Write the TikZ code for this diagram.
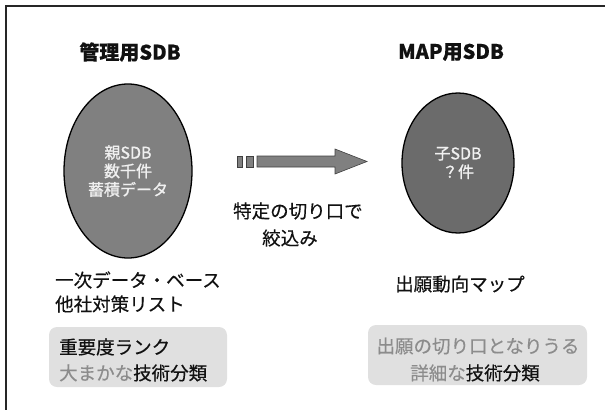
\documentclass[tikz,border=0pt]{standalone}
\usepackage{fontspec}
\setmainfont{Noto Sans CJK JP}[FakeBold=0.4]
\newfontfamily\inner{Noto Sans CJK JP}[FakeBold=1.2]
\usetikzlibrary{shapes.geometric}
\definecolor{ink}{HTML}{111111}
\definecolor{pale}{HTML}{8C8C8C}
\definecolor{boxgray}{HTML}{E0E0E0}
\begin{document}
\begin{tikzpicture}[x=1pt,y=-1pt,
  db/.style={ellipse,draw=black,line width=1.3pt,inner sep=0pt,text=white!94!black,
    font=\inner\fontsize{16}{18.5}\selectfont,align=center},
  titlelbl/.style={font=\fontsize{20}{24}\selectfont\bfseries,text=ink},
  lbl/.style={font=\fontsize{18.5}{23}\selectfont,text=ink,inner sep=0pt},
  tagbox/.style={fill=boxgray,rounded corners=8pt,inner sep=0pt},
  arrowpart/.style={fill=black!50,draw=black!75,line width=0.6pt}]
\useasboundingbox (0,0) rectangle (605,410);
\draw[line width=1.2pt,black!85] (605,6) -- (6,6) -- (6,410);

\node[titlelbl] (t1) at (130,52) {管理用SDB};
\node[titlelbl] (t2) at (451,52) {MAP用SDB};

\node[db,fill=black!50,minimum width=128,minimum height=174] (e1) at (128,171) {親SDB\\数千件\\蓄積データ};
\node[db,fill=black!58,minimum width=112,minimum height=140] (e2) at (458,163) {子SDB\\？件};

% block arrow
\draw[arrowpart] (237,156) rectangle (242,167);
\draw[arrowpart] (246,156) rectangle (253,167);
\draw[arrowpart] (257,156) -- (335,156) -- (335,149) -- (367,161.5) -- (335,174) -- (335,167) -- (257,167) -- cycle;

\node[lbl,anchor=west] (c1) at (233,211) {特定の切り口で};
\node[lbl,anchor=west] (c2) at (262,238) {絞込み};

\node[lbl,anchor=west] (l1) at (55,280) {一次データ・ベース};
\node[lbl,anchor=west] (l2) at (55,304) {他社対策リスト};

\node[lbl,anchor=west] (r1) at (395,284) {出願動向マップ};

\node[tagbox,minimum width=178,minimum height=60] (b1) at (138,357) {};
\node[lbl,anchor=west] (b1a) at (59,347) {重要度ランク};
\node[lbl,anchor=west] (b1b) at (59,373) {\textcolor{pale}{大まかな}技術分類};

\node[tagbox,minimum width=219,minimum height=60] (b2) at (477.5,355) {};
\node[lbl,text=pale] (b2a) at (478,346) {出願の切り口となりうる};
\node[lbl,text=pale] (b2b) at (475,373) {詳細な\textcolor{ink}{技術分類}};
\end{tikzpicture}
\end{document}
